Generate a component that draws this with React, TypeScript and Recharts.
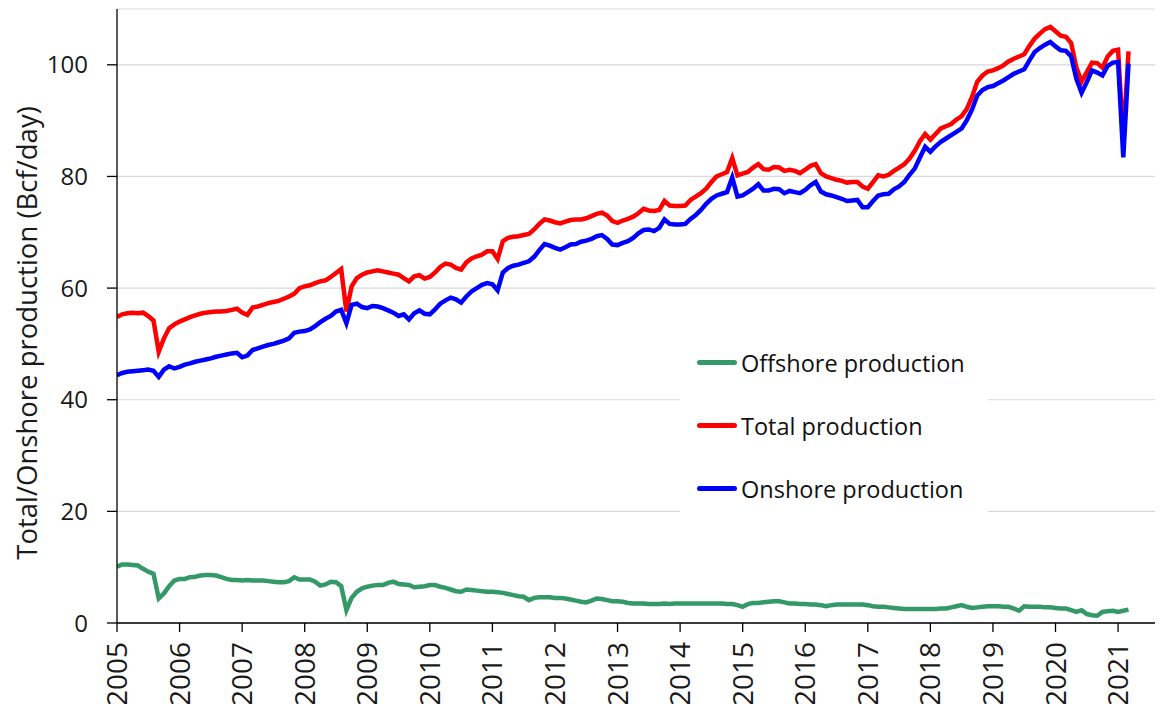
import { LineChart, Line, XAxis, YAxis, CartesianGrid, Legend } from "recharts";

const FIRST_YEAR = 2005;
const YEAR_TICKS = [2005, 2006, 2007, 2008, 2009, 2010, 2011, 2012, 2013, 2014, 2015, 2016, 2017, 2018, 2019, 2020, 2021];
const Y_TICKS = [0, 20, 40, 60, 80, 100];
const LEGEND_ORDER = ["Offshore production", "Total production", "Onshore production"];

// Bcf/day, monthly, Jan 2005 .. Mar 2021 (one row per year)
const total = [
  54.8, 55.3, 55.5, 55.6, 55.5, 55.6, 55.0, 54.2, 48.6, 51.0, 52.8, 53.5,
  54.0, 54.4, 54.8, 55.1, 55.4, 55.6, 55.7, 55.8, 55.8, 55.9, 56.1, 56.3,
  55.6, 55.2, 56.5, 56.7, 57.0, 57.3, 57.5, 57.7, 58.1, 58.5, 59.0, 60.0,
  60.3, 60.5, 60.9, 61.2, 61.4, 62.0, 62.7, 63.4, 55.8, 60.3, 61.8, 62.4,
  62.8, 63.0, 63.2, 63.0, 62.8, 62.6, 62.4, 61.8, 61.2, 62.1, 62.3, 61.7,
  62.0, 62.8, 63.8, 64.4, 64.2, 63.6, 63.3, 64.6, 65.3, 65.7, 66.0, 66.6,
  66.6, 65.2, 68.4, 69.0, 69.2, 69.3, 69.5, 69.7, 70.5, 71.5, 72.3, 72.1,
  71.8, 71.6, 71.9, 72.2, 72.3, 72.3, 72.5, 72.9, 73.3, 73.5, 73.0, 72.0,
  71.7, 72.1, 72.4, 72.8, 73.4, 74.2, 73.9, 73.8, 74.0, 75.6, 74.8, 74.7,
  74.7, 74.8, 75.8, 76.4, 77.0, 77.8, 79.0, 80.0, 80.4, 80.8, 83.3, 80.2,
  80.5, 80.8, 81.6, 82.2, 81.3, 81.2, 81.7, 81.6, 81.0, 81.2, 81.0, 80.6,
  81.2, 81.9, 82.2, 80.6, 80.0, 79.7, 79.4, 79.2, 78.9, 79.0, 79.0, 78.2,
  77.8, 79.0, 80.2, 80.0, 80.3, 81.0, 81.6, 82.2, 83.2, 84.6, 86.3, 87.6,
  86.6, 87.6, 88.6, 89.0, 89.4, 90.2, 90.8, 92.1, 94.3, 97.0, 98.1, 98.8,
  99.0, 99.4, 99.9, 100.6, 101.1, 101.5, 101.9, 103.4, 104.7, 105.6, 106.4, 106.8,
  106.0, 105.2, 105.0, 103.9, 99.5, 97.0, 98.7, 100.4, 100.3, 99.5, 101.5, 102.5,
  102.7, 86.5, 102.4,
];

const onshore = [
  44.4, 44.8, 45.0, 45.1, 45.2, 45.3, 45.4, 45.2, 44.1, 45.4, 46.0, 45.6,
  45.9, 46.3, 46.5, 46.8, 47.0, 47.2, 47.4, 47.7, 47.9, 48.1, 48.3, 48.4,
  47.6, 47.9, 48.9, 49.2, 49.5, 49.8, 50.0, 50.3, 50.6, 51.0, 52.0, 52.2,
  52.3, 52.6, 53.2, 53.9, 54.5, 55.0, 55.8, 56.1, 53.7, 57.0, 57.2, 56.6,
  56.4, 56.8, 56.7, 56.4, 56.0, 55.6, 55.0, 55.3, 54.4, 55.5, 56.0, 55.4,
  55.3, 56.2, 57.2, 57.8, 58.3, 58.0, 57.4, 58.5, 59.4, 60.0, 60.6, 60.9,
  60.7, 59.6, 62.8, 63.6, 64.0, 64.2, 64.5, 64.8, 65.6, 66.8, 67.9, 67.6,
  67.2, 66.9, 67.3, 67.8, 67.9, 68.3, 68.5, 68.8, 69.3, 69.5, 68.8, 67.8,
  67.7, 68.1, 68.4, 69.0, 69.8, 70.4, 70.5, 70.2, 70.8, 72.3, 71.5, 71.4,
  71.4, 71.5, 72.4, 73.1, 74.0, 75.1, 76.0, 76.6, 76.9, 77.2, 79.8, 76.4,
  76.6, 77.2, 77.8, 78.6, 77.5, 77.5, 77.8, 77.7, 77.0, 77.4, 77.2, 77.0,
  77.6, 78.4, 79.0, 77.3, 76.8, 76.6, 76.3, 76.0, 75.6, 75.7, 75.8, 74.5,
  74.5, 75.6, 76.6, 76.8, 76.9, 77.7, 78.2, 79.0, 80.3, 81.4, 83.4, 85.3,
  84.4, 85.4, 86.2, 86.8, 87.4, 88.0, 88.6, 90.1, 92.0, 94.5, 95.5, 96.0,
  96.2, 96.7, 97.2, 97.8, 98.4, 98.8, 99.2, 100.8, 102.3, 103.0, 103.6, 104.1,
  103.3, 102.6, 102.5, 101.5, 97.5, 95.0, 96.9, 99.0, 98.6, 98.1, 99.8, 100.4,
  100.5, 83.4, 100.2,
];

const offshore = [
  10.1, 10.5, 10.5, 10.4, 10.3, 9.7, 9.2, 8.8, 4.4, 5.3, 6.6, 7.6,
  7.9, 7.9, 8.2, 8.3, 8.5, 8.6, 8.6, 8.5, 8.2, 7.9, 7.7, 7.7,
  7.6, 7.7, 7.6, 7.6, 7.6, 7.5, 7.4, 7.3, 7.3, 7.5, 8.2, 7.8,
  7.8, 7.8, 7.4, 6.7, 6.9, 7.4, 7.3, 6.6, 2.3, 4.5, 5.6, 6.2,
  6.5, 6.7, 6.8, 6.8, 7.2, 7.4, 7.0, 6.9, 6.8, 6.4, 6.5, 6.6,
  6.8, 6.8, 6.5, 6.3, 6.0, 5.7, 5.6, 6.0, 5.9, 5.8, 5.7, 5.6,
  5.6, 5.5, 5.4, 5.2, 5.0, 4.8, 4.7, 4.1, 4.5, 4.6, 4.6, 4.6,
  4.5, 4.5, 4.4, 4.2, 4.0, 3.8, 3.7, 4.0, 4.4, 4.3, 4.1, 3.9,
  3.9, 3.8, 3.6, 3.5, 3.5, 3.5, 3.4, 3.4, 3.4, 3.5, 3.4, 3.5,
  3.5, 3.5, 3.5, 3.5, 3.5, 3.5, 3.5, 3.5, 3.5, 3.4, 3.4, 3.2,
  2.9, 3.4, 3.6, 3.6, 3.7, 3.8, 3.9, 3.9, 3.7, 3.5, 3.5, 3.4,
  3.4, 3.3, 3.3, 3.2, 3.0, 3.2, 3.3, 3.3, 3.3, 3.3, 3.3, 3.3,
  3.2, 3.0, 2.9, 2.9, 2.8, 2.7, 2.6, 2.5, 2.5, 2.5, 2.5, 2.5,
  2.5, 2.5, 2.6, 2.6, 2.8, 3.0, 3.2, 2.9, 2.7, 2.8, 2.9, 3.0,
  3.0, 3.0, 2.9, 2.9, 2.6, 2.2, 3.0, 2.9, 2.9, 2.9, 2.8, 2.8,
  2.7, 2.6, 2.6, 2.3, 2.0, 2.3, 1.6, 1.4, 1.3, 2.0, 2.1, 2.2,
  2.0, 2.2, 2.4,
];

const data = total.map((v, i) => ({
  t: FIRST_YEAR + i / 12,
  total: v,
  onshore: onshore[i],
  offshore: offshore[i],
}));

const FONT = "'Open Sans', sans-serif";

const YearTick = ({ x, y, payload }: any) => (
  <text
    x={x}
    y={y}
    transform={`rotate(-90, ${x}, ${y})`}
    textAnchor="end"
    dy="0.36em"
    fontSize={28}
    fill="#1a1a1a"
  >
    {payload.value}
  </text>
);

const AxisTitle = () => (
  <text
    x={19}
    y={325}
    transform="rotate(-90, 19, 325)"
    textAnchor="middle"
    dy="0.36em"
    fontSize={27.5}
    fill="#1a1a1a"
  >
    Total/Onshore production (Bcf/day)
  </text>
);

// legend drawn as a white box sitting over the grid
const LegendBox = ({ payload }: any) => {
  const items = [...(payload ?? [])].sort(
    (a: any, b: any) => LEGEND_ORDER.indexOf(a.value) - LEGEND_ORDER.indexOf(b.value)
  );
  return (
    <div style={{ background: "#fff", width: 308, height: 185 }}>
      {items.map((p: any) => (
        <div key={p.value} style={{ display: "flex", alignItems: "center", height: 63, paddingLeft: 17 }}>
          <span style={{ display: "inline-block", width: 40, height: 5, borderRadius: 3, background: p.color }} />
          <span style={{ marginLeft: 4, fontSize: 23.5, color: "#111", whiteSpace: "nowrap" }}>{p.value}</span>
        </div>
      ))}
    </div>
  );
};

const App = () => {
  return (
    <div style={{ width: 1155, height: 700, fontFamily: FONT }}>
      <LineChart width={1155} height={700} data={data} margin={{ top: 1, right: 3, bottom: 0, left: 0 }}>
        <CartesianGrid vertical={false} stroke="#d9d9d9" strokeWidth={1.2} />
        <XAxis
          dataKey="t"
          type="number"
          domain={[2005, 2021.67]}
          ticks={YEAR_TICKS}
          interval={0}
          allowDataOverflow
          height={85}
          tickSize={9}
          tickMargin={10}
          tick={<YearTick />}
          stroke="#000"
          strokeWidth={1.3}
        />
        <YAxis
          type="number"
          domain={[0, 110]}
          ticks={Y_TICKS}
          interval={0}
          width={109}
          tickSize={10}
          tickMargin={19}
          tick={{ fontSize: 24, fill: "#1a1a1a" }}
          stroke="#000"
          strokeWidth={1.3}
          label={<AxisTitle />}
        />
        <Legend
          layout="horizontal"
          verticalAlign="middle"
          align="center"
          content={<LegendBox />}
          wrapperStyle={{ left: 672, top: 323, width: 308, height: 185 }}
        />
        <Line dataKey="offshore" name="Offshore production" stroke="#339966" strokeWidth={4.5} dot={false} type="linear" isAnimationActive={false} />
        <Line dataKey="total" name="Total production" stroke="#ff0000" strokeWidth={4.5} dot={false} type="linear" isAnimationActive={false} />
        <Line dataKey="onshore" name="Onshore production" stroke="#0000ff" strokeWidth={4.5} dot={false} type="linear" isAnimationActive={false} />
      </LineChart>
    </div>
  );
};

export default App;
